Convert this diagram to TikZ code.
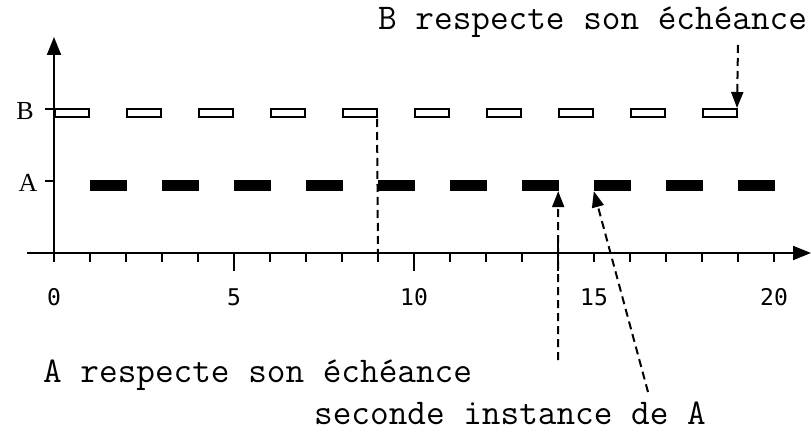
\documentclass[tikz,border=0pt]{standalone}
\usepackage{fontspec}
\setmainfont{Liberation Serif}
\newfontfamily\tickfont{DejaVu Sans Mono}
\usetikzlibrary{arrows.meta}
\begin{document}
\begin{tikzpicture}[x=1pt,y=-1pt,
  axisline/.style={line width=2pt},
  axistip/.style={-{Triangle[length=18pt,width=14pt]}},
  guide/.style={line width=2pt,dash pattern=on 8pt off 5pt},
  guidetip/.style={-{Triangle[length=16pt,width=12pt]}},
  bbox/.style={draw,line width=2pt,fill=white,inner sep=0pt,minimum width=34pt,minimum height=8pt},
  abar/.style={fill=black,inner sep=0pt,minimum width=37pt,minimum height=11pt},
  ticklab/.style={font=\tickfont\fontsize{23}{26}\selectfont,anchor=base,inner sep=0pt},
  rowlab/.style={font=\fontsize{26}{28}\selectfont,inner sep=0pt},
  note/.style={font=\ttfamily\fontsize{36.2}{39}\selectfont,anchor=base west,inner sep=0pt}]
\useasboundingbox (0,0) rectangle (811,433);

% axes
\coordinate (xstart) at (27,253);
\coordinate (xend) at (811,253);
\coordinate (ystart) at (54,262);
\coordinate (yend) at (54,37);
\draw[axisline,axistip] (xstart) -- (xend);
\draw[axisline,axistip] (ystart) -- (yend);

% time ticks
\foreach \i in {1,...,20}{
  \coordinate (t\i) at (54+36*\i,253);
  \draw[axisline] (t\i) -- ++(0,9);
}
\draw[axisline] (t5) -- ++(0,18);
\draw[axisline] (t10) -- ++(0,18);

% tick labels
\foreach \v in {0,5,10,15,20}
  \node[ticklab] (lab\v) at (54+36*\v,305) {\v};

% row ticks and labels
\coordinate (ybtick) at (54,109);
\coordinate (yatick) at (54,181);
\draw[axisline] (ybtick) -- ++(-9,0);
\draw[axisline] (yatick) -- ++(-9,0);
\node[rowlab] (rowB) at (25,111) {B};
\node[rowlab] (rowA) at (28,183) {A};

% task B: open boxes on [2k, 2k+1]
\foreach \k in {0,...,9}
  \node[bbox] (b\k) at (54+72*\k+18,113) {};

% task A: filled bars on [2k+1, 2k+2]
\foreach \k in {0,...,9}
  \node[abar] (a\k) at (54+72*\k+54,185.5) {};

% annotations
\node[note] (noteB) at (378,30) {B respecte son échéance};
\node[note] (noteA) at (43,382) {A respecte son échéance};
\node[note] (noteS) at (314,424) {seconde instance de A};

% dashed guides and arrows
\coordinate (nine) at (378,253);
\draw[guide] (b4.south east) ++(-1,1) -- (nine);

\coordinate (bfrom) at (738,45);
\draw[guide,guidetip] (bfrom) -- ([xshift=-1pt]b9.north east);

\coordinate (afrom) at (558,360);
\draw[guide,guidetip] (afrom) -- ([xshift=-0.5pt]a6.south east);
\draw[axisline] (558,243) -- (558,271);

\coordinate (sfrom) at (648,392);
\draw[guide,guidetip] (sfrom) -- ([xshift=0.5pt]a7.south west);
\end{tikzpicture}
\end{document}
